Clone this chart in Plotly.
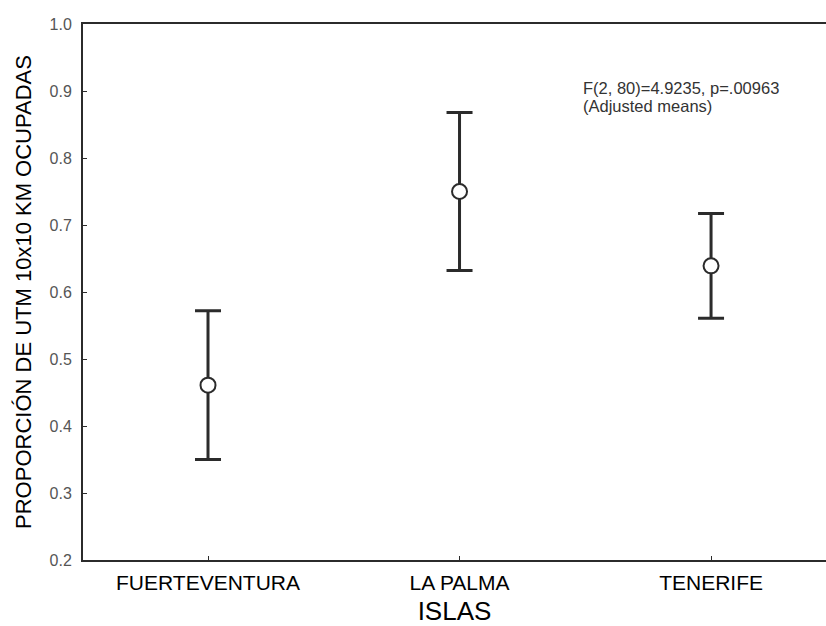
import plotly.graph_objects as go

islas = ["FUERTEVENTURA", "LA PALMA", "TENERIFE"]
medias = [0.461, 0.750, 0.639]
error = [0.111, 0.118, 0.078]
y_ticks = [0.2, 0.3, 0.4, 0.5, 0.6, 0.7, 0.8, 0.9, 1.0]
y_labels = ["0.2", "0.3", "0.4", "0.5", "0.6", "0.7", "0.8", "0.9", "1.0"]
nota = ["F(2, 80)=4.9235, p=.00963", "(Adjusted means)"]

dark = "#2b2b2b"
font_fam = "Liberation Sans, Arial, sans-serif"

fig = go.Figure()
fig.add_trace(go.Scatter(
    x=islas, y=medias, mode="markers",
    marker=dict(symbol="circle", size=15, color="white",
                line=dict(color=dark, width=2)),
    error_y=dict(type="data", array=error, visible=True,
                 color=dark, thickness=3, width=13),
    showlegend=False, cliponaxis=False,
))

fig.update_layout(
    width=826, height=626,
    margin=dict(l=83, r=0, t=24, b=66),
    plot_bgcolor="white", paper_bgcolor="white",
    font=dict(family=font_fam, color="black"),
    xaxis=dict(
        type="category", range=[-0.497, 2.457],
        showline=True, linecolor=dark, linewidth=2, mirror=True,
        ticks="inside", ticklen=4, tickcolor=dark, tickwidth=1,
        tickfont=dict(size=21, color="black"),
        ticklabelstandoff=3,
        showgrid=False, zeroline=False,
        title=dict(text="ISLAS", font=dict(size=26, color="black"), standoff=9),
    ),
    yaxis=dict(
        range=[0.2, 1.0], tickvals=y_ticks, ticktext=y_labels,
        showline=True, linecolor=dark, linewidth=2, mirror=False,
        ticks="inside", ticklen=4, tickcolor=dark, tickwidth=1,
        tickfont=dict(size=16, color="#555555"),
        ticklabelstandoff=6,
        showgrid=False, zeroline=False,
        title=dict(text="PROPORCIÓN DE UTM 10x10 KM OCUPADAS",
                   font=dict(size=22, color="black"), standoff=12),
    ),
    annotations=[
        dict(text=nota[0], xref="paper", yref="paper", x=0.672, y=0.900,
             xanchor="left", yanchor="top", showarrow=False, borderpad=0,
             font=dict(size=16.5, color="#333333", family=font_fam)),
        dict(text=nota[1], xref="paper", yref="paper", x=0.672, y=0.866,
             xanchor="left", yanchor="top", showarrow=False, borderpad=0,
             font=dict(size=16.5, color="#333333", family=font_fam)),
    ],
)

fig.write_html("out.html")
